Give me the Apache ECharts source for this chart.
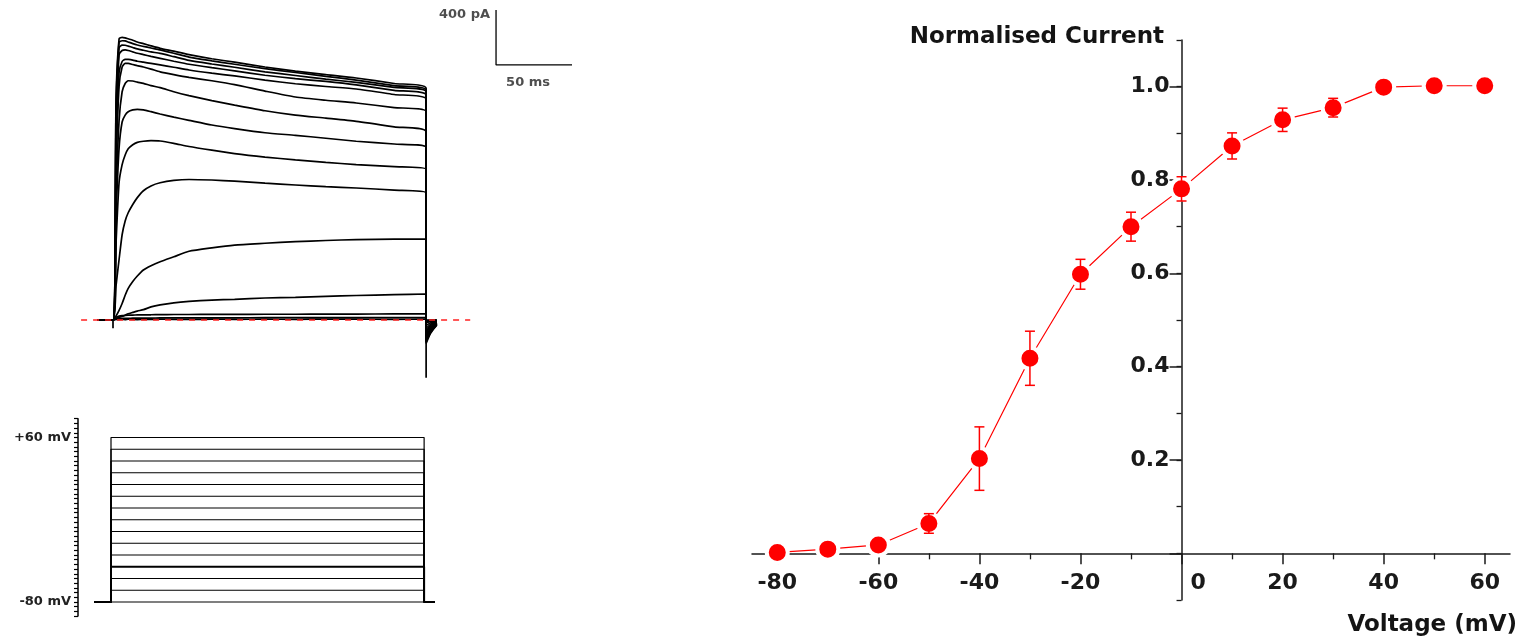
<!DOCTYPE html>
<html>
<head>
<meta charset="utf-8">
<script src="https://cdn.jsdelivr.net/npm/echarts@6/dist/echarts.min.js"></script>
<style>
  html, body { margin: 0; padding: 0; background: #fff; }
  #chart { width: 1527px; height: 637px; }
</style>
</head>
<body>
<div id="chart"></div>
<script>
// Step potentials of the activation protocol (mV)
const stepVoltages = [-80, -70, -60, -50, -40, -30, -20, -10, 0, 10, 20, 30, 40, 50, 60];

// Sample times of the current family (ms after step onset)
const traceTimes = [0, 2, 4, 6, 8, 10, 13, 16, 20, 25, 31, 40, 50, 65, 80, 100, 120, 140, 160, 185, 206];

// Outward current for each step potential (pA), one row per entry of stepVoltages
const traceCurrents = [
  [0, 4, 2, 5, 3, 6, 4, 3, 5, 4, 6, 5, 4, 6, 5, 6, 5, 7, 6, 5, 6],
  [0, 8, 10, 11, 12, 12, 13, 13, 14, 14, 15, 15, 16, 16, 16, 17, 17, 17, 18, 18, 18],
  [0, 20, 28, 32, 34, 35, 36, 37, 38, 38, 39, 40, 40, 41, 41, 42, 42, 43, 43, 44, 44],
  [0, 10, 20, 25, 35, 45, 55, 65, 75, 95, 110, 125, 135, 145, 150, 160, 165, 172, 178, 185, 189],
  [0, 30, 70, 120, 180, 230, 280, 320, 364, 395, 424, 460, 500, 525, 545, 558, 570, 578, 585, 588, 589],
  [0, 250, 440, 620, 720, 780, 840, 890, 940, 975, 998, 1015, 1022, 1018, 1010, 995, 982, 970, 960, 945, 925],
  [0, 560, 1000, 1130, 1200, 1245, 1275, 1292, 1300, 1304, 1302, 1285, 1262, 1235, 1210, 1185, 1165, 1147, 1130, 1115, 1096],
  [0, 750, 1250, 1440, 1490, 1515, 1528, 1532, 1528, 1515, 1498, 1475, 1452, 1418, 1392, 1362, 1343, 1322, 1300, 1280, 1256],
  [0, 900, 1450, 1660, 1720, 1740, 1738, 1730, 1721, 1705, 1690, 1660, 1632, 1595, 1563, 1522, 1490, 1468, 1445, 1405, 1369],
  [0, 1100, 1700, 1840, 1866, 1866, 1858, 1850, 1840, 1825, 1805, 1785, 1765, 1740, 1712, 1665, 1622, 1598, 1578, 1545, 1515],
  [0, 1200, 1800, 1880, 1896, 1895, 1890, 1882, 1875, 1866, 1855, 1838, 1818, 1795, 1775, 1745, 1718, 1698, 1680, 1640, 1605],
  [0, 1350, 1930, 1960, 1964, 1960, 1950, 1940, 1930, 1917, 1903, 1882, 1860, 1835, 1812, 1780, 1755, 1735, 1710, 1670, 1636],
  [0, 1450, 1980, 1999, 1998, 1992, 1982, 1972, 1962, 1950, 1939, 1915, 1888, 1862, 1838, 1805, 1778, 1752, 1728, 1692, 1660],
  [0, 1550, 2020, 2031, 2030, 2022, 2010, 2000, 1990, 1978, 1964, 1940, 1912, 1885, 1860, 1828, 1800, 1772, 1745, 1705, 1672],
  [0, 1600, 2045, 2056, 2052, 2045, 2035, 2022, 2010, 1994, 1976, 1955, 1930, 1900, 1875, 1840, 1810, 1785, 1760, 1720, 1685]
];

// Tail currents after repolarisation (pA)
const tailTimes = [206, 209, 213];
const tailCurrents = [
  [0, 0, 0], [-5, -3, -1], [-10, -5, -2], [-20, -10, -5], [-40, -20, -8],
  [-60, -30, -12], [-80, -40, -15], [-95, -50, -18], [-110, -60, -20], [-125, -70, -25],
  [-135, -75, -28], [-145, -80, -30], [-150, -85, -32], [-160, -90, -35], [-170, -95, -38]
];

// Capacitive transients at the start and end of the step
const onsetTransient = [[0, 0], [0, -60]];
const offsetTransient = [[206, 0], [206, -420]];

// Protocol timing (ms) and holding potential (mV)
const baselineStart = -10.5;
const holdStart = -11;
const pulseStart = 0;
const pulseEnd = 206;
const holdEnd = 213;
const holdingPotential = -80;
const protocolLabels = [60, -80];

// Scale bar: origin (ms, pA) and lengths
const scaleBarOrigin = [252, 1855];
const scaleBarTime = 50;
const scaleBarCurrent = 400;

// Normalised activation curve
const ivVoltages = [-80, -70, -60, -50, -40, -30, -20, -10, 0, 10, 20, 30, 40, 50, 60];
const ivMeans = [0.002, 0.009, 0.018, 0.064, 0.203, 0.418, 0.598, 0.700, 0.781, 0.873, 0.929, 0.955, 0.999, 1.002, 1.002];
const ivSem = [0.004, 0.005, 0.006, 0.021, 0.068, 0.058, 0.032, 0.031, 0.026, 0.028, 0.025, 0.020, 0.006, 0.005, 0.004];
const ivXTicks = [-80, -60, -40, -20, 0, 20, 40, 60];
const ivXMinorTicks = [-70, -50, -30, -10, 10, 30, 50];
const ivYTicks = [0, 0.2, 0.4, 0.6, 0.8, 1.0];
const ivYLabels = [0.2, 0.4, 0.6, 0.8, 1.0];

// ---- layout of the recording panels ----
const FONT = 'DejaVu Sans';
const pxPerMs = 1.52;
const traceLeft = 80, traceWidth = 500;
const onsetPx = 113;
const tMin = (traceLeft - onsetPx) / pxPerMs;
const tMax = (traceLeft + traceWidth - onsetPx) / pxPerMs;
const pxPerPA = 0.1375, zeroPx = 320, traceHeight = 400;
const iMax = zeroPx / pxPerPA;
const iMin = -(traceHeight - zeroPx) / pxPerPA;

const pxPerMV = 1.175, vTop = 76, vBottom = -92, v60Px = 437.5;
const protoTop = v60Px - (vTop - 60) * pxPerMV;
const protoHeight = (vTop - vBottom) * pxPerMV;
const protoLeft = 111 - (-tMin) * pxPerMs;

// ---- layout of the activation curve; axes cross at (0 mV, 0) ----
const ivGrid = { left: 752, top: 40, width: 758, height: 560 };
const ivX = [-85, 65], ivY = [-0.1, 1.1];
const yAxisShift = -(0 - ivX[0]) / (ivX[1] - ivX[0]) * ivGrid.width;
const xAxisShift = -(0 - ivY[0]) / (ivY[1] - ivY[0]) * ivGrid.height;

const series = [];

// zero-current reference
series.push({
  type: 'line', xAxisIndex: 0, yAxisIndex: 0, symbol: 'none', silent: true, z: 5,
  data: [[-21, 0], [235, 0]],
  lineStyle: { color: '#ff2020', width: 1.5, type: [6, 6] }
});

// current family
traceCurrents.forEach((row, i) => {
  const pts = [[baselineStart, 0]];
  traceTimes.forEach((t, j) => pts.push([t, row[j]]));
  tailTimes.forEach((t, j) => pts.push([t, tailCurrents[i][j]]));
  series.push({
    type: 'line', name: stepVoltages[i] + ' mV', xAxisIndex: 0, yAxisIndex: 0,
    symbol: 'none', silent: true, smooth: 0.2, data: pts,
    lineStyle: { color: '#000', width: 1.7 }
  });
});

[onsetTransient, offsetTransient].forEach(d => series.push({
  type: 'line', xAxisIndex: 0, yAxisIndex: 0, symbol: 'none', silent: true, data: d,
  lineStyle: { color: '#000', width: 1.7 }
}));

// scale bar
const [sbT, sbI] = scaleBarOrigin;
series.push({
  type: 'line', xAxisIndex: 0, yAxisIndex: 0, symbol: 'none', silent: true,
  data: [[sbT, sbI + scaleBarCurrent], [sbT, sbI], [sbT + scaleBarTime, sbI]],
  lineStyle: { color: '#000', width: 1.3 }
});
series.push({
  type: 'scatter', xAxisIndex: 0, yAxisIndex: 0, symbolSize: 0, silent: true,
  label: { show: true, fontFamily: FONT, fontWeight: 'bold', fontSize: 13, color: '#222' },
  data: [
    { value: [sbT, sbI + scaleBarCurrent], label: { formatter: scaleBarCurrent + ' pA', position: 'left', distance: 6, offset: [0, 5] } },
    { value: [sbT + scaleBarTime / 2, sbI], label: { formatter: scaleBarTime + ' ms', position: 'bottom', distance: 9, offset: [-6, 2] } }
  ]
});

// voltage protocol
stepVoltages.forEach(v => {
  series.push({
    type: 'line', xAxisIndex: 1, yAxisIndex: 1, symbol: 'none', silent: true,
    data: [[holdStart, holdingPotential], [pulseStart, holdingPotential], [pulseStart, v],
           [pulseEnd, v], [pulseEnd, holdingPotential], [holdEnd, holdingPotential]],
    lineStyle: { color: '#000', width: v === -50 ? 2 : 1.2 }
  });
});

// activation curve
series.push({
  type: 'line', xAxisIndex: 2, yAxisIndex: 2, z: 3,
  data: ivVoltages.map((v, i) => [v, ivMeans[i]]),
  symbol: 'circle', symbolSize: 21,
  lineStyle: { color: '#ff0000', width: 1.2 },
  itemStyle: { color: '#ff0000', borderColor: '#ffffff', borderWidth: 4 }
});
series.push({
  type: 'custom', xAxisIndex: 2, yAxisIndex: 2, z: 4, silent: true,
  data: ivVoltages.map((v, i) => [v, ivMeans[i] - ivSem[i], ivMeans[i] + ivSem[i]]),
  encode: { x: 0, y: [1, 2] },
  renderItem(params, api) {
    const x = api.value(0);
    const top = api.coord([x, api.value(2)]);
    const bot = api.coord([x, api.value(1)]);
    const cap = 5;
    const style = { stroke: '#ff0000', lineWidth: 1.5 };
    return {
      type: 'group', children: [
        { type: 'line', shape: { x1: top[0], y1: top[1], x2: bot[0], y2: bot[1] }, style },
        { type: 'line', shape: { x1: top[0] - cap, y1: top[1], x2: top[0] + cap, y2: top[1] }, style },
        { type: 'line', shape: { x1: bot[0] - cap, y1: bot[1], x2: bot[0] + cap, y2: bot[1] }, style }
      ]
    };
  }
});

const axisColor = '#1a1a1a';
const labelFont = { fontFamily: FONT, fontWeight: 'bold', fontSize: 22, color: '#1a1a1a' };

const option = {
  animation: false,
  backgroundColor: '#fff',
  title: [
    { text: 'Normalised Current', right: 1527 - 1169, top: 21,
      textStyle: { fontFamily: FONT, fontWeight: 'bold', fontSize: 23, color: '#141414' } },
    { text: 'Voltage (mV)', right: 5, top: 609,
      textStyle: { fontFamily: FONT, fontWeight: 'bold', fontSize: 23, color: '#141414' } }
  ],
  grid: [
    { left: traceLeft, top: zeroPx - iMax * pxPerPA, width: traceWidth, height: traceHeight },
    { left: protoLeft, top: protoTop, width: traceWidth, height: protoHeight },
    ivGrid
  ],
  xAxis: [
    { gridIndex: 0, type: 'value', min: tMin, max: tMax, show: false },
    { gridIndex: 1, type: 'value', min: tMin, max: tMax, show: false },
    { gridIndex: 2, type: 'value', min: ivX[0], max: ivX[1], position: 'bottom', offset: xAxisShift,
      axisLine: { onZero: false, lineStyle: { color: axisColor, width: 1.5 } },
      axisTick: { customValues: ivXTicks, length: 11, lineStyle: { color: axisColor, width: 1.5 } },
      axisLabel: Object.assign({}, labelFont, {
        customValues: ivXTicks, margin: 19,
        formatter: v => (v === 0 ? '{z|0}' : String(v)),
        rich: { z: Object.assign({}, labelFont, { padding: [0, 0, 0, 33] }) }
      }),
      splitLine: { show: false } },
    { gridIndex: 2, type: 'value', min: ivX[0], max: ivX[1], position: 'bottom', offset: xAxisShift,
      axisLine: { show: false, onZero: false },
      axisTick: { customValues: ivXMinorTicks, length: 6, lineStyle: { color: axisColor, width: 1.3 } },
      axisLabel: { show: false }, splitLine: { show: false } }
  ],
  yAxis: [
    { gridIndex: 0, type: 'value', min: iMin, max: iMax, show: false },
    { gridIndex: 1, type: 'value', min: vBottom, max: vTop, interval: 4, position: 'left',
      axisLine: { show: true, onZero: false, lineStyle: { color: '#000', width: 1.5 } },
      axisTick: { show: true, length: 4, lineStyle: { color: '#000', width: 1.2 } },
      axisLabel: { customValues: protocolLabels, margin: 7, fontFamily: FONT, fontWeight: 'bold', fontSize: 13, color: '#222',
        formatter: v => (v > 0 ? '+' + v : String(v)) + ' mV' },
      splitLine: { show: false } },
    { gridIndex: 2, type: 'value', min: ivY[0], max: ivY[1], interval: 0.1, position: 'left', offset: yAxisShift,
      axisLine: { onZero: false, lineStyle: { color: axisColor, width: 1.5 } },
      axisTick: { length: 5, lineStyle: { color: axisColor, width: 1.3 } },
      axisLabel: { show: false }, splitLine: { show: false } },
    { gridIndex: 2, type: 'value', min: ivY[0], max: ivY[1], position: 'left', offset: yAxisShift,
      axisLine: { show: false, onZero: false },
      axisTick: { customValues: ivYTicks, length: 12, lineStyle: { color: axisColor, width: 1.5 } },
      axisLabel: Object.assign({}, labelFont, { customValues: ivYLabels, margin: 12, formatter: v => v.toFixed(1) }),
      splitLine: { show: false } }
  ],
  series
};

const chart = echarts.init(document.getElementById('chart'), null, { renderer: 'canvas' });
chart.setOption(option);
</script>
</body>
</html>
